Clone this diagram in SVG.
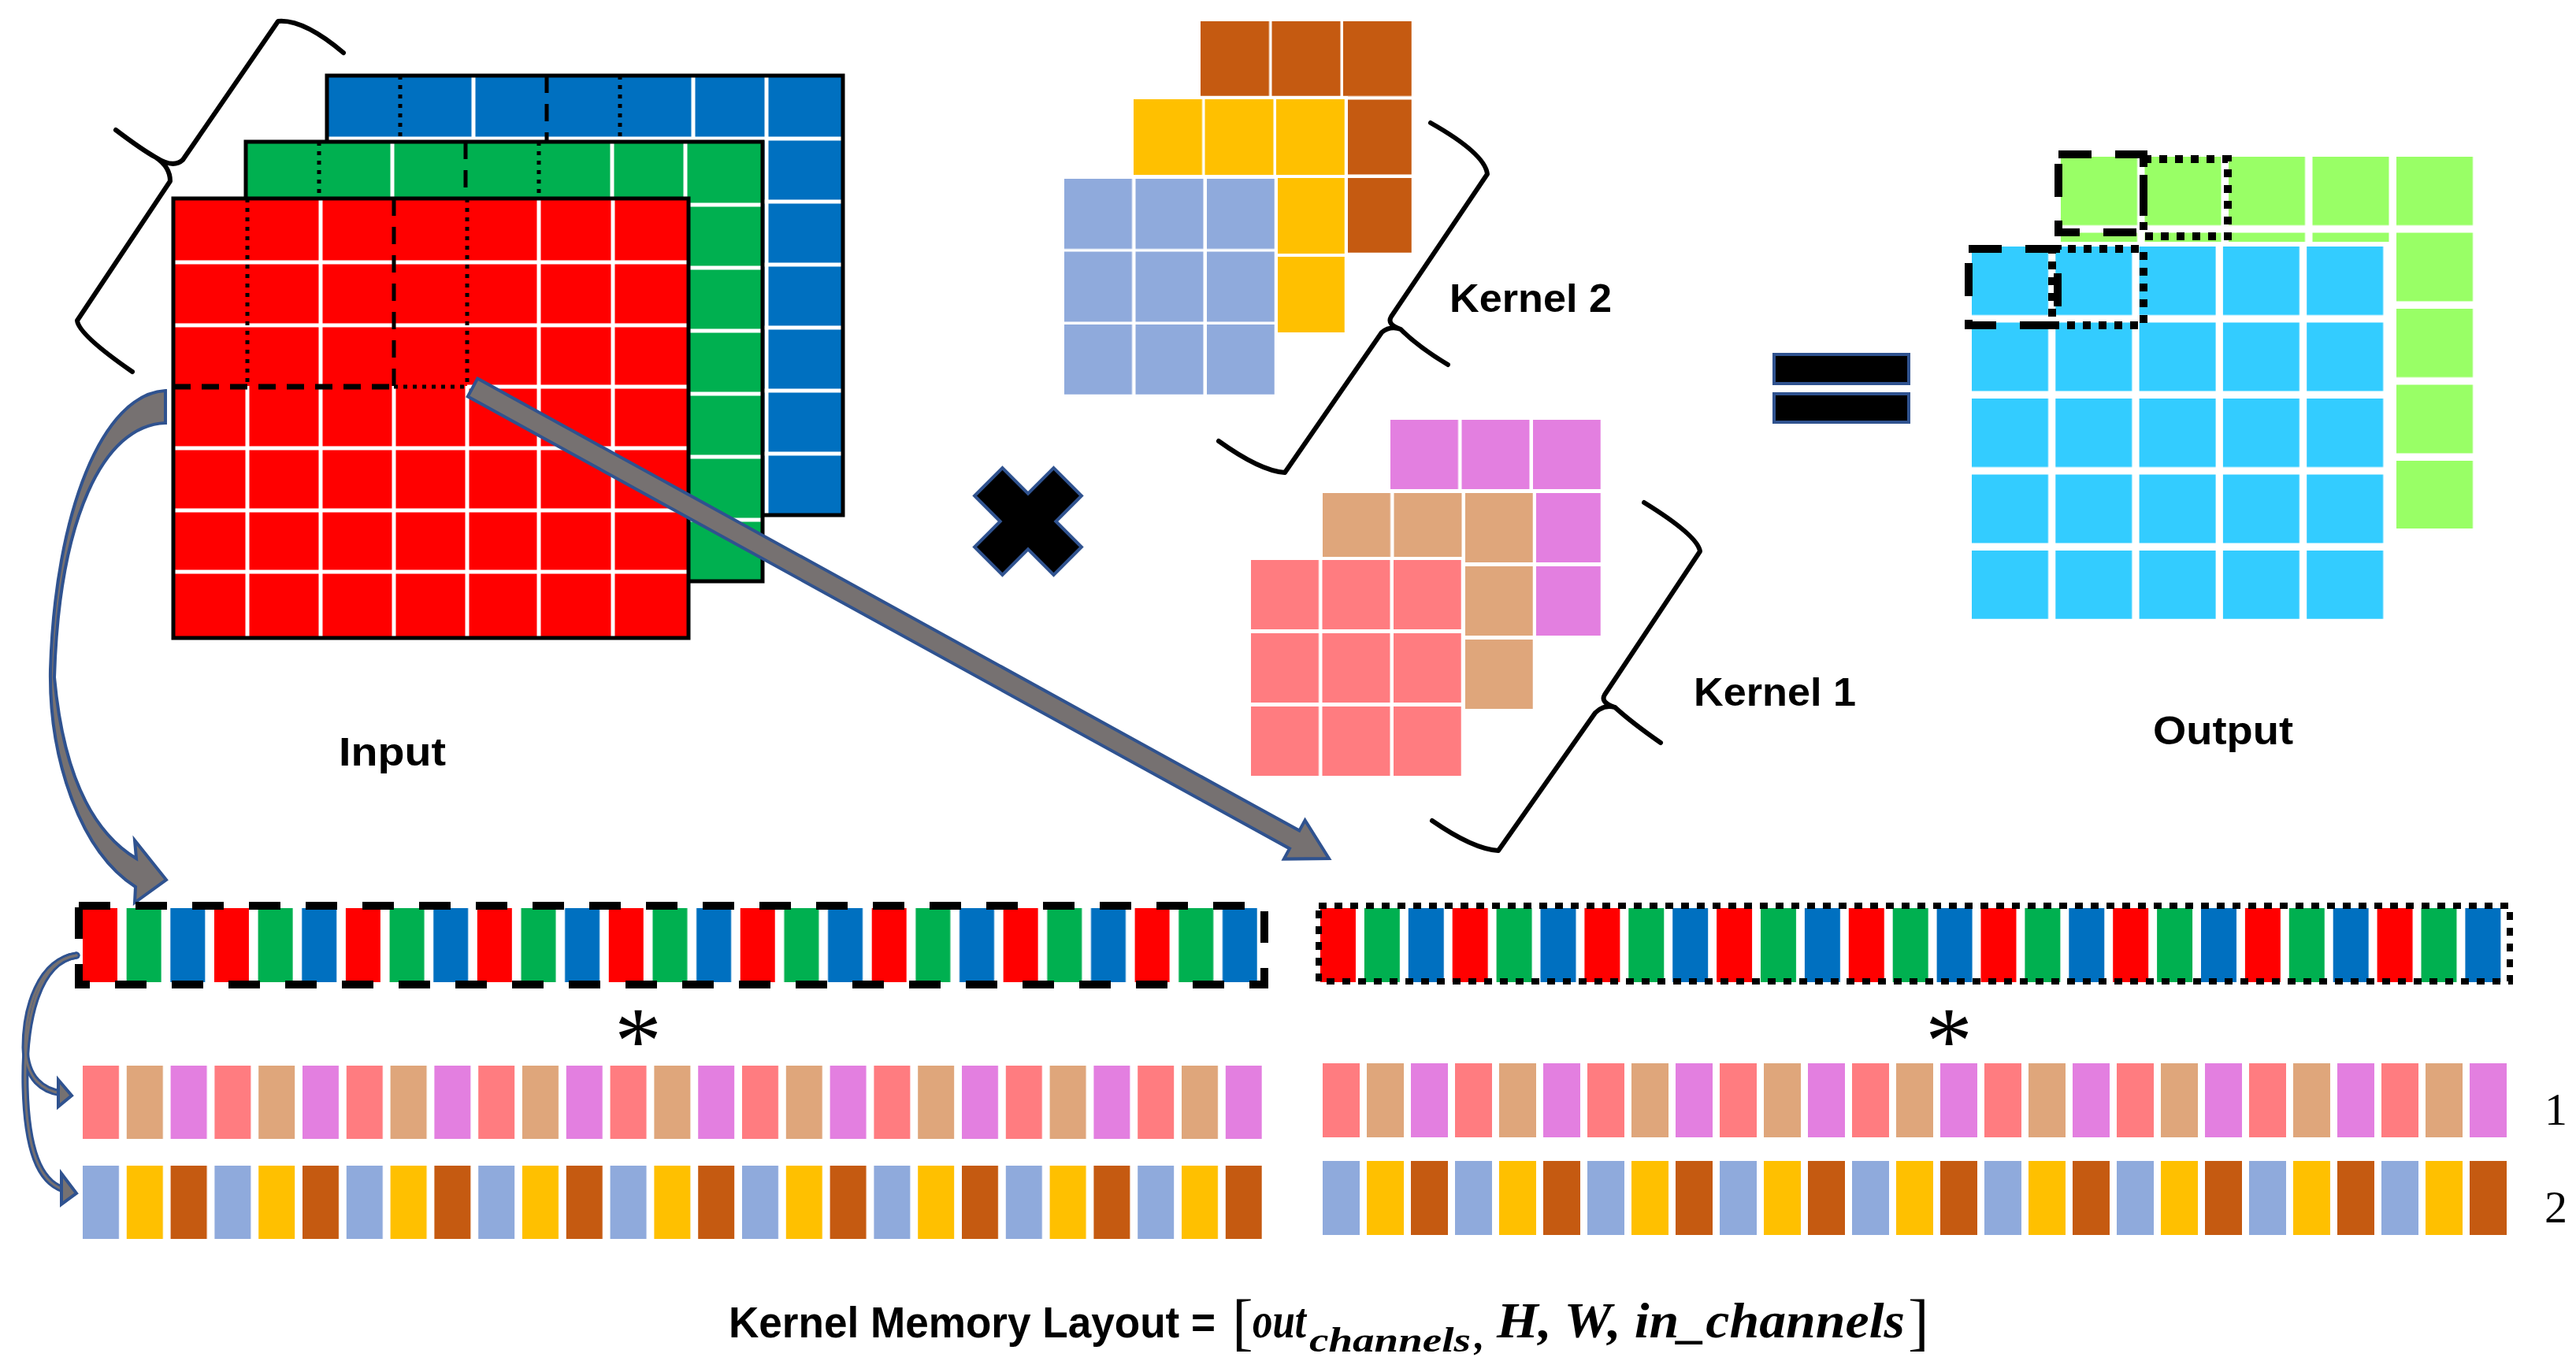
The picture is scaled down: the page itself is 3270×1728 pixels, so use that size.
<svg xmlns="http://www.w3.org/2000/svg" width="3270" height="1728" viewBox="0 0 3270 1728">
<style>
.wl{stroke:#fff;stroke-width:5;fill:none}
.bd{stroke:#000;stroke-width:5;fill:none}
.dot{stroke:#000;stroke-width:5;stroke-dasharray:5 7;fill:none}
.dash{stroke:#000;stroke-width:5;stroke-dasharray:22 14;fill:none}
.brace{stroke:#000;stroke-width:6;fill:none;stroke-linejoin:round;stroke-linecap:round}
.arr{fill:#767171;stroke:#2F528F;stroke-width:4;stroke-linejoin:miter}
.lbl{font-family:"Liberation Sans",Arial,sans-serif;font-weight:bold;fill:#000}
.math{font-family:"Liberation Serif","Times New Roman",serif;font-style:italic;fill:#000}
</style>
<defs>
<pattern id="rgbL" patternUnits="userSpaceOnUse" x="105" y="0" width="166.95" height="1728"><rect x="0" y="0" width="44" height="1728" fill="#FF0000"/><rect x="55.65" y="0" width="44" height="1728" fill="#00B050"/><rect x="111.3" y="0" width="44" height="1728" fill="#0070C0"/></pattern>
<pattern id="rgbR" patternUnits="userSpaceOnUse" x="1676" y="0" width="167.7" height="1728"><rect x="0" y="0" width="45" height="1728" fill="#FF0000"/><rect x="55.9" y="0" width="45" height="1728" fill="#00B050"/><rect x="111.8" y="0" width="45" height="1728" fill="#0070C0"/></pattern>
<pattern id="k1L" patternUnits="userSpaceOnUse" x="105" y="0" width="167.4" height="1728"><rect x="0" y="0" width="46" height="1728" fill="#FF7C80"/><rect x="55.8" y="0" width="46" height="1728" fill="#DFA67B"/><rect x="111.6" y="0" width="46" height="1728" fill="#E37FE0"/></pattern>
<pattern id="k2L" patternUnits="userSpaceOnUse" x="105" y="0" width="167.4" height="1728"><rect x="0" y="0" width="46" height="1728" fill="#8FAADC"/><rect x="55.8" y="0" width="46" height="1728" fill="#FFC000"/><rect x="111.6" y="0" width="46" height="1728" fill="#C55A11"/></pattern>
<pattern id="k1R" patternUnits="userSpaceOnUse" x="1679" y="0" width="168" height="1728"><rect x="0" y="0" width="47" height="1728" fill="#FF7C80"/><rect x="56" y="0" width="47" height="1728" fill="#DFA67B"/><rect x="112" y="0" width="47" height="1728" fill="#E37FE0"/></pattern>
<pattern id="k2R" patternUnits="userSpaceOnUse" x="1679" y="0" width="168" height="1728"><rect x="0" y="0" width="47" height="1728" fill="#8FAADC"/><rect x="56" y="0" width="47" height="1728" fill="#FFC000"/><rect x="112" y="0" width="47" height="1728" fill="#C55A11"/></pattern>
<pattern id="pBrown" patternUnits="userSpaceOnUse" x="1524" y="27" width="90.5" height="99.5"><rect width="87" height="95" fill="#C55A11"/></pattern>
<pattern id="pYellow" patternUnits="userSpaceOnUse" x="1439" y="126" width="90.5" height="100"><rect width="87" height="96" fill="#FFC000"/></pattern>
<pattern id="pLblue" patternUnits="userSpaceOnUse" x="1351" y="227" width="90.5" height="92.5"><rect width="86" height="89" fill="#8FAADC"/></pattern>
<pattern id="pMag" patternUnits="userSpaceOnUse" x="1765" y="533" width="90.5" height="93"><rect width="86" height="88" fill="#E37FE0"/></pattern>
<pattern id="pTan" patternUnits="userSpaceOnUse" x="1679" y="626" width="90.5" height="93"><rect width="86" height="88" fill="#DFA67B"/></pattern>
<pattern id="pPink" patternUnits="userSpaceOnUse" x="1588" y="711" width="90.5" height="93"><rect width="86" height="88" fill="#FF7C80"/></pattern>
<pattern id="pOG" patternUnits="userSpaceOnUse" x="2616" y="199" width="106.5" height="96.5"><rect width="97" height="87" fill="#99FF66"/></pattern>
<pattern id="pOB" patternUnits="userSpaceOnUse" x="2503" y="313" width="106.3" height="96.5"><rect width="97" height="87" fill="#33CCFF"/></pattern>
</defs>

<g id="input">
<g id="blue-channel">
<rect x="415" y="96" width="655" height="558" fill="#0070C0"/>
<path class="wl" d="M601,96V654M880,96V654M973,96V654M415,176H1070M415,256H1070M415,336H1070M415,416H1070M415,496H1070M415,576H1070"/>
<path class="dot" d="M508,96V180M787,96V180"/><path class="dash" d="M694,96V180"/>
<rect class="bd" x="415" y="96" width="655" height="558"/>
</g>
<g id="green-channel">
<rect x="312" y="180" width="656" height="558" fill="#00B050"/>
<path class="wl" d="M498,180V738M777,180V738M870,180V738M312,260H968M312,340H968M312,420H968M312,500H968M312,580H968M312,660H968"/>
<path class="dot" d="M405,180V252M684,180V252"/><path class="dash" d="M591,180V252"/>
<rect class="bd" x="312" y="180" width="656" height="558"/>
</g>
<g id="red-channel">
<rect x="220" y="252" width="654" height="558" fill="#FF0000"/>
<path class="wl" d="M314,490V810M407,252V810M500,490V810M593,490V810M684,252V810M778,252V810M220,333H874M220,413H874M593,491H874M220,569H874M220,648H874M220,726H874"/>
<path class="dot" d="M314,252V490M593,252V490M500,491H593"/><path class="dash" d="M500,252V490"/>
<path d="M220,491H500" stroke="#000" stroke-width="7" stroke-dasharray="22 14" fill="none"/>
<rect class="bd" x="220" y="252" width="654" height="558"/>
</g>
<path class="brace" d="M436,67 Q385,24 353,27 L232,203 Q220,214 198,200 M147,165 Q180,190 198,200 Q216,212 216,230 L98,407 Q100,425 168,472"/>
<text class="lbl" x="430" y="972" font-size="50" textLength="136" lengthAdjust="spacingAndGlyphs">Input</text>
</g>

<g id="kernel2">
<rect x="1520" y="23" width="276" height="302" fill="#fff"/>
<rect x="1524" y="27" width="268" height="294" fill="url(#pBrown)"/>
<rect x="1435" y="122" width="276" height="304" fill="#fff"/>
<rect x="1439" y="126" width="268" height="296" fill="url(#pYellow)"/>
<rect x="1347" y="223" width="275" height="282" fill="#fff"/>
<rect x="1351" y="227" width="267" height="274" fill="url(#pLblue)"/>
<path class="brace" d="M1816,156 Q1885,195 1888,221 L1766,402 Q1760,412 1778,418 Q1800,440 1838,463 M1778,418 Q1765,413 1754,422 L1631,600 Q1600,598 1547,560"/>
<text class="lbl" x="1840" y="396" font-size="50" textLength="206" lengthAdjust="spacingAndGlyphs">Kernel 2</text>
</g>

<g id="kernel1">
<rect x="1761" y="529" width="275" height="282" fill="#fff"/>
<rect x="1765" y="533" width="267" height="274" fill="url(#pMag)"/>
<rect x="1675" y="622" width="275" height="282" fill="#fff"/>
<rect x="1679" y="626" width="267" height="274" fill="url(#pTan)"/>
<rect x="1584" y="707" width="275" height="282" fill="#fff"/>
<rect x="1588" y="711" width="267" height="274" fill="url(#pPink)"/>
<path class="brace" d="M2087,638 Q2155,680 2158,700 L2037,882 Q2031,892 2050,898 Q2072,918 2108,943 M2050,898 Q2036,894 2025,905 L1902,1080 Q1870,1078 1818,1042"/>
<text class="lbl" x="2150" y="896" font-size="50" textLength="206" lengthAdjust="spacingAndGlyphs">Kernel 1</text>
</g>

<g id="times">
<polygon transform="translate(1305,662) rotate(45)" points="-25,-71 25,-71 25,-25 71,-25 71,25 25,25 25,71 -25,71 -25,25 -71,25 -71,-25 -25,-25" fill="#000" stroke="#2F528F" stroke-width="4"/>
</g>
<g id="equals">
<rect x="2252" y="450" width="171" height="37" fill="#000" stroke="#2F528F" stroke-width="4"/>
<rect x="2252" y="500" width="171" height="36" fill="#000" stroke="#2F528F" stroke-width="4"/>
</g>

<g id="output">
<rect x="2616" y="199" width="527" height="472" fill="url(#pOG)"/>
<rect x="2497" y="307" width="537" height="484" fill="#fff"/>
<rect x="2503" y="313" width="528" height="473" fill="url(#pOB)"/>
<rect x="2613" y="196" width="108" height="99" fill="none" stroke="#000" stroke-width="10" stroke-dasharray="42 30"/>
<rect x="2721" y="202" width="107" height="98" fill="none" stroke="#000" stroke-width="10" stroke-dasharray="10 10"/>
<rect x="2499" y="316" width="113" height="97" fill="none" stroke="#000" stroke-width="10" stroke-dasharray="42 30"/>
<rect x="2605" y="316" width="116" height="97" fill="none" stroke="#000" stroke-width="10" stroke-dasharray="10 10"/>
<text class="lbl" x="2733" y="945" font-size="50" textLength="178" lengthAdjust="spacingAndGlyphs">Output</text>
</g>

<g id="connectors">
<path class="arr" d="M210,496 C130,500 70,650 64,850 C62,960 100,1080 172,1126 L171,1146 L211,1117 L171,1067 L173,1090 C115,1055 80,980 69,860 C75,660 130,540 210,537 Z"/>
<polygon class="arr" points="606.2,480.6 1649.4,1054.6 1656.6,1041.4 1687,1090 1629.8,1090.6 1637,1077.4 593.8,503.4"/>
<g fill="none" stroke-linecap="round">
<path d="M97,1213 C50,1220 32,1280 32,1330 C33,1370 55,1385 78,1388" stroke="#2F528F" stroke-width="9"/>
<path d="M97,1213 C50,1220 30,1290 32,1380 C34,1460 50,1500 80,1510" stroke="#2F528F" stroke-width="9"/>
<path d="M97,1213 C50,1220 32,1280 32,1330 C33,1370 55,1385 78,1388" stroke="#767171" stroke-width="3"/>
<path d="M97,1213 C50,1220 30,1290 32,1380 C34,1460 50,1500 80,1510" stroke="#767171" stroke-width="3"/>
</g>
<polygon class="arr" points="74,1371 91,1391 74,1405"/>
<polygon class="arr" points="78,1490 97,1515 78,1529"/>
</g>

<g id="memory-left">
<rect x="105" y="1153" width="1491" height="94" fill="url(#rgbL)"/>
<rect x="100" y="1150" width="1505" height="100" fill="none" stroke="#000" stroke-width="10" stroke-dasharray="40 32"/>
<text x="810" y="1362" font-family="Liberation Serif,serif" font-size="120" text-anchor="middle">*</text>
<rect x="105" y="1353" width="1497" height="93" fill="url(#k1L)"/>
<rect x="105" y="1480" width="1497" height="93" fill="url(#k2L)"/>
</g>
<g id="memory-right">
<rect x="1676" y="1153" width="1501" height="94" fill="url(#rgbR)"/>
<rect x="1674" y="1150" width="1512" height="96" fill="none" stroke="#000" stroke-width="8" stroke-dasharray="10 10"/>
<text x="2474" y="1362" font-family="Liberation Serif,serif" font-size="120" text-anchor="middle">*</text>
<rect x="1679" y="1350" width="1503" height="94" fill="url(#k1R)"/>
<rect x="1679" y="1474" width="1503" height="94" fill="url(#k2R)"/>
<text x="3230" y="1428" font-family="Liberation Serif,serif" font-size="58">1</text>
<text x="3230" y="1552" font-family="Liberation Serif,serif" font-size="58">2</text>
</g>

<g id="caption">
<text class="lbl" x="925" y="1698" font-size="56" textLength="618" lengthAdjust="spacingAndGlyphs">Kernel Memory Layout =</text>
<text x="1564" y="1705" font-family="Liberation Serif,serif" font-size="80">[</text>
<text class="math" x="1590" y="1698" font-size="64" font-weight="bold" textLength="68" lengthAdjust="spacingAndGlyphs">out</text>
<text class="math" x="1662" y="1716" font-size="44" font-weight="bold" textLength="205" lengthAdjust="spacingAndGlyphs">channels</text>
<text class="math" x="1872" y="1712" font-size="50" font-weight="bold">,</text>
<text class="math" x="1900" y="1698" font-size="64" font-weight="bold" textLength="518" lengthAdjust="spacingAndGlyphs">H, W, in_channels</text>
<text x="2422" y="1705" font-family="Liberation Serif,serif" font-size="80">]</text>
</g>
</svg>
